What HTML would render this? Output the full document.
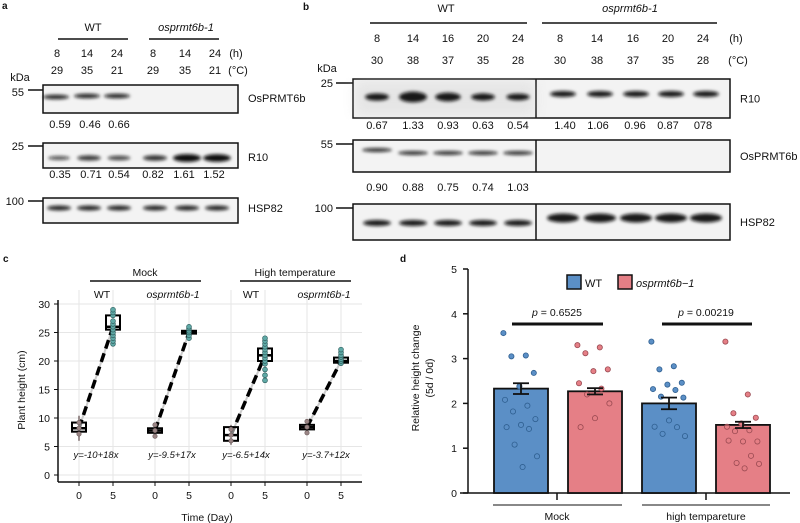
<!DOCTYPE html>
<html><head><meta charset="utf-8"><style>
html,body{margin:0;padding:0;background:#fff}
svg{display:block;font-family:"Liberation Sans",Arial,sans-serif}
</style></head><body>
<svg id="fig" width="800" height="523" viewBox="0 0 800 523" xmlns="http://www.w3.org/2000/svg">
<defs>
<filter id="blur" x="-20%" y="-100%" width="140%" height="300%"><feGaussianBlur stdDeviation="1.6"/></filter>
<filter id="blur2"><feGaussianBlur stdDeviation="6"/></filter>
</defs>
<g id="pa"></g>
<g id="pb"></g>
<g id="pc"></g>
<g id="pd"></g>
</svg>
<script>
const NS='http://www.w3.org/2000/svg';
function el(p,tag,at,txt){const e=document.createElementNS(NS,tag);for(const k in at)e.setAttribute(k,at[k]);if(txt!==undefined)e.textContent=txt;p.appendChild(e);return e;}
function T(p,x,y,s,o){o=o||{};const e=el(p,'text',Object.assign({x:x,y:y,'font-size':o.fs||11,'text-anchor':o.a||'middle',fill:'#111'},o.at||{}),s);if(o.it)e.setAttribute('font-style','italic');if(o.b)e.setAttribute('font-weight','bold');return e;}

// ---------- Panel A data ----------
const aHours=['8','14','24','8','14','24'];
const aTemps=['29','35','21','29','35','21'];
const aOsPRMT=['0.59','0.46','0.66'];
const aR10=['0.35','0.71','0.54','0.82','1.61','1.52'];
const aR10Int=[0.35,0.71,0.54,0.82,1.61,1.52];
// ---------- Panel B data ----------
const bHours=['8','14','16','20','24','8','14','16','20','24'];
const bTemps=['30','38','37','35','28','30','38','37','35','28'];
const bR10=['0.67','1.33','0.93','0.63','0.54','1.40','1.06','0.96','0.87','078'];
const bR10Int=[0.67,1.33,0.93,0.63,0.54,1.40,1.06,0.96,0.87,0.78];
const bOsPRMT=['0.90','0.88','0.75','0.74','1.03'];

function blotBox(g,x1,x2,y1,y2,name){const r=el(g,'rect',{x:x1,y:y1,width:x2-x1,height:y2-y1,fill:'#f3f3f3',stroke:'#111','stroke-width':1.5});
return r;}
function band(g,cx,cy,w,h,op){const e=el(g,'ellipse',{cx:cx,cy:cy,rx:w/2,ry:h/2,fill:'#111','fill-opacity':op,filter:'url(#blur)'});
}

(function(){
const g=document.getElementById('pa');
T(g,2,9,'a',{a:'start',b:1,fs:10});
const cols=[57,87,117,153,185,215];
T(g,93,31,'WT');el(g,'line',{x1:58,y1:39,x2:128,y2:39,stroke:'#111','stroke-width':1.5});
T(g,186,31,'osprmt6b-1',{it:1});el(g,'line',{x1:149,y1:39,x2:219,y2:39,stroke:'#111','stroke-width':1.5});
aHours.forEach((h,i)=>T(g,cols[i],57,h));T(g,236,57,'(h)');
aTemps.forEach((h,i)=>T(g,cols[i],74,h));T(g,238,74,'(°C)');
T(g,20,81,'kDa');
// row 1
blotBox(g,43,238,85,113,'osprmt6b-blot-a');
T(g,24,96,'55',{a:'end'});el(g,'line',{x1:28,y1:90,x2:43,y2:90,stroke:'#111','stroke-width':1.5});
for(let i=0;i<3;i++)band(g,cols[i]+(i==0?-1:0),96+(i==0?1:0),26,4.5,0.9);
T(g,248,102,'OsPRMT6b',{a:'start'});
aOsPRMT.forEach((v,i)=>T(g,[60,90,119][i],128,v));
// row 2
blotBox(g,43,238,143,168,'r10-blot-a');
T(g,24,150,'25',{a:'end'});el(g,'line',{x1:28,y1:146,x2:43,y2:146,stroke:'#111','stroke-width':1.5});
aR10Int.forEach((v,i)=>band(g,cols[i]+2,158,20+v*5,3+v*3,Math.min(1,0.6+v*0.3)));
T(g,248,161,'R10',{a:'start'});
aR10.forEach((v,i)=>T(g,[60,91,119,153,184,214][i],178,v));
// row 3
blotBox(g,43,238,198,223,'hsp82-blot-a');
T(g,24,205,'100',{a:'end'});el(g,'line',{x1:28,y1:201,x2:43,y2:201,stroke:'#111','stroke-width':1.5});
for(let i=0;i<6;i++)band(g,cols[i]+2,208,24,5,0.9);
T(g,248,212,'HSP82',{a:'start'});
})();

(function(){
const g=document.getElementById('pb');
T(g,303,10,'b',{a:'start',b:1,fs:10});
const cols=[377,413,448,483,518,560,597,633,668,703];
T(g,446,12,'WT');el(g,'line',{x1:370,y1:23,x2:527,y2:23,stroke:'#111','stroke-width':1.5});
T(g,630,12,'osprmt6b-1',{it:1});el(g,'line',{x1:542,y1:23,x2:717,y2:23,stroke:'#111','stroke-width':1.5});
bHours.forEach((h,i)=>T(g,cols[i],42,h));T(g,736,42,'(h)');
bTemps.forEach((h,i)=>T(g,cols[i],64,h));T(g,738,64,'(°C)');
T(g,327,72,'kDa');
const rows=[[79,118,'25','R10','r10-blot-b'],[140,172,'55','OsPRMT6b','osprmt6b-blot-b'],[204,240,'100','HSP82','hsp82-blot-b']];
rows.forEach(r=>{blotBox(g,353,730,r[0],r[1],r[4]);el(g,'line',{x1:536,y1:r[0],x2:536,y2:r[1],stroke:'#111','stroke-width':1.5});
el(g,'line',{x1:336,y1:r[0]+4,x2:353,y2:r[0]+4,stroke:'#111','stroke-width':1.5});
T(g,333,r[0]+8,r[2],{a:'end'});T(g,740,(r[0]+r[1])/2+4,r[3],{a:'start'});});
el(g,'rect',{x:355,y:81,width:180,height:35,fill:'#ccc',opacity:0.35,filter:'url(#blur2)'});
bR10Int.forEach((v,i)=>band(g,cols[i]+(i<5?0:3),i<5?97:94,i<5?20+v*6:26,i<5?4+v*5:6,0.95));
bR10.forEach((v,i)=>T(g,[377,413,448,483,518,565,598,635,668,703][i],129,v));
for(let i=0;i<5;i++)band(g,cols[i],i==0?150:153,30,4,0.85);
bOsPRMT.forEach((v,i)=>T(g,cols[i],191,v));
for(let i=0;i<10;i++)band(g,cols[i]+(i<5?0:3),i<5?223:218,i<5?28:32,i<5?6:9,0.95);
})();

// ---------- Panel C data ----------
const cGroups=['Mock','High temperature'];
const cGenos=['WT','osprmt6b-1','WT','osprmt6b-1'];
const cDays=[0,5];
const cMed0=[8.2,7.8,7.0,8.4];
const cQ1_0=[7.6,7.4,6.0,8.0];
const cQ3_0=[9.2,8.2,8.4,8.8];
const cMin0=[6.0,6.6,5.3,7.7];
const cMax0=[10.4,9.0,8.8,9.2];
const cMed5=[26.0,25.0,21.0,20.0];
const cQ1_5=[25.5,24.8,20.0,19.7];
const cQ3_5=[28.0,25.3,22.2,20.6];
const cPts5=[[23,23.5,24,24.5,25,25.5,26,26.5,27,28,28.5,29],[24,24.5,25,25.3,25.7,26],[16.6,17.5,18.5,19.5,20,20.5,21,21.5,22,22.5,23,23.5,24],[19.6,20,20.3,20.7,21,21.5,22]];
const cEq=['y=-10+18x','y=-9.5+17x','y=-6.5+14x','y=-3.7+12x'];
const cYTicks=[0,5,10,15,20,25,30];

(function(){
const g=document.getElementById('pc');
T(g,3,262,'c',{a:'start',b:1,fs:10});
const ys=v=>475-v*(171/30);
const xs=(gi,d)=>79+gi*76+d*(34/5);
cYTicks.forEach(v=>el(g,'line',{x1:58,y1:ys(v),x2:362,y2:ys(v),stroke:'#e6e6e6','stroke-width':1}));
cGenos.forEach((n,gi)=>cDays.forEach(d=>el(g,'line',{x1:xs(gi,d),y1:290,x2:xs(gi,d),y2:482,stroke:'#e6e6e6','stroke-width':1})));
el(g,'line',{x1:58,y1:300,x2:58,y2:482,stroke:'#111','stroke-width':1.5});
el(g,'line',{x1:58,y1:482,x2:362,y2:482,stroke:'#111','stroke-width':1.5});
cYTicks.forEach(v=>{el(g,'line',{x1:54,y1:ys(v),x2:58,y2:ys(v),stroke:'#111'});T(g,50,ys(v)+4,String(v),{a:'end',fs:10.5});});
cGenos.forEach((n,gi)=>cDays.forEach(d=>{el(g,'line',{x1:xs(gi,d),y1:482,x2:xs(gi,d),y2:486,stroke:'#111'});T(g,xs(gi,d),499,String(d),{fs:10.5});}));
T(g,207,521,'Time (Day)',{fs:10.5});
T(g,0,0,'Plant  height (cm)',{fs:10.5,at:{transform:'translate(25,390) rotate(-90)'}});
cGroups.forEach((n,i)=>{T(g,[145,295][i],276,n,{fs:10.5});el(g,'line',{x1:[90,240][i],y1:281,x2:[201,351][i],y2:281,stroke:'#111','stroke-width':1.5});});
cGenos.forEach((n,gi)=>T(g,[102,173,251,324][gi],298,n,{fs:10.5,it:gi%2==1}));
cEq.forEach((s,gi)=>T(g,[96,172,246,326][gi],458,s,{fs:9.5,it:1}));
cGenos.forEach((n,gi)=>{
 const x0=xs(gi,0),x5=xs(gi,5);
 el(g,'line',{x1:x0,y1:ys(cMin0[gi]),x2:x0,y2:ys(cMax0[gi]),stroke:'#7a6a6a','stroke-width':1.5});
 el(g,'line',{x1:x0,y1:ys(cMed0[gi]),x2:x5,y2:ys(cMed5[gi]),stroke:'#ccc','stroke-width':2});
 const dl=el(g,'line',{x1:x0,y1:ys(cMed0[gi]),x2:x5,y2:ys(cMed5[gi]),stroke:'#000','stroke-width':3.5,'stroke-dasharray':'9 5'});
 
 
 [[x0,cQ1_0,cQ3_0,cMed0],[x5,cQ1_5,cQ3_5,cMed5]].forEach(b=>{
  const r=el(g,'rect',{x:b[0]-7,y:ys(b[2][gi]),width:14,height:Math.max(2,ys(b[1][gi])-ys(b[2][gi])),fill:'#fff','fill-opacity':0.5,stroke:'#000','stroke-width':2});
  
  
  el(g,'line',{x1:b[0]-7,y1:ys(b[3][gi]),x2:b[0]+7,y2:ys(b[3][gi]),stroke:'#000','stroke-width':2.5});
 });
 for(let k=0;k<3;k++)el(g,'circle',{cx:x0,cy:ys(cMed0[gi]+k-1),r:2.2,fill:'#9a8585',stroke:'#6a5a5a','stroke-width':0.6});
 cPts5[gi].forEach(v=>{const c=el(g,'circle',{cx:x5,cy:ys(v),r:2.4,fill:'#5fa9a6',stroke:'#2f5f5f','stroke-width':0.7});
  
  });
});
})();

// ---------- Panel D data ----------
const dGroups=['Mock','high tempareture'];
const dSeries=['WT','osprmt6b−1'];
const dMeans=[2.33,2.27,2.0,1.52];
const dSE=[0.12,0.07,0.13,0.07];
const dPts=[[3.57,3.07,3.05,2.68,2.38,2.08,1.95,1.82,1.65,1.52,1.47,1.43,1.08,0.82,0.58],
[3.3,3.25,3.12,2.76,2.72,2.45,2.33,2.2,2.0,1.67,1.47],
[3.38,2.83,2.76,2.46,2.42,2.32,2.3,2.15,2.13,1.62,1.48,1.47,1.32,1.27],
[3.38,2.2,1.78,1.68,1.55,1.48,1.4,1.38,1.15,1.15,1.17,0.83,0.67,0.65,0.55]];
const dPvals=['p = 0.6525','p = 0.00219'];
const dYTicks=[0,1,2,3,4,5];

(function(){
const g=document.getElementById('pd');
T(g,400,262,'d',{a:'start',b:1,fs:10});
const ys=v=>493-v*44.8;
const colors=['#5b8fc6','#e57f86'],dark=['#2f5f90','#9a4a52'];
const bx=[494,568,642,716],bw=54;
el(g,'line',{x1:468,y1:269,x2:468,y2:493,stroke:'#111','stroke-width':1.5});
el(g,'line',{x1:460,y1:493,x2:790,y2:493,stroke:'#111','stroke-width':1.5});
dYTicks.forEach(v=>{el(g,'line',{x1:463,y1:ys(v),x2:468,y2:ys(v),stroke:'#111','stroke-width':1.5});T(g,457,ys(v)+4,String(v),{a:'end',fs:10.5});});
T(g,0,0,'Relative  height change',{fs:10.5,at:{transform:'translate(419,378) rotate(-90)'}});
T(g,0,0,'(5d / 0d)',{fs:10.5,at:{transform:'translate(433,378) rotate(-90)'}});
dMeans.forEach((m,i)=>{
 const r=el(g,'rect',{x:bx[i],y:ys(m),width:bw,height:ys(0)-ys(m),fill:colors[i%2],stroke:'#111','stroke-width':1.8});
 
 
 const cx=bx[i]+bw/2;
 dPts[i].forEach((v,k)=>{const jx=((k*37)%23-11)*1.6;const c=el(g,'circle',{cx:cx+jx,cy:ys(v),r:2.6,fill:colors[i%2],stroke:dark[i%2],'stroke-width':0.8,'fill-opacity':v>m?1:0.6});
  
  });
 el(g,'line',{x1:cx,y1:ys(m-dSE[i]),x2:cx,y2:ys(m+dSE[i]),stroke:'#111','stroke-width':1.8});
 el(g,'line',{x1:cx-8,y1:ys(m+dSE[i]),x2:cx+8,y2:ys(m+dSE[i]),stroke:'#111','stroke-width':1.8});
 el(g,'line',{x1:cx-8,y1:ys(m-dSE[i]),x2:cx+8,y2:ys(m-dSE[i]),stroke:'#111','stroke-width':1.8});
});
dGroups.forEach((n,j)=>{const c=[557,706][j];
 el(g,'line',{x1:c,y1:493,x2:c,y2:500,stroke:'#111','stroke-width':1.5});
 el(g,'line',{x1:[493,642][j],y1:505,x2:[622,770][j],y2:505,stroke:'#111','stroke-width':1});
 T(g,c,520,n,{fs:10.5});
 el(g,'line',{x1:[512,662][j],y1:324,x2:[603,752][j],y2:324,stroke:'#111','stroke-width':3});
 const t=T(g,[557,706][j],316,'',{fs:10.5});
 el(t,'tspan',{'font-style':'italic'},'p');el(t,'tspan',{},dPvals[j].slice(1));
});
dSeries.forEach((n,i)=>{const x=[567,618][i];
 const r=el(g,'rect',{x:x,y:275,width:14,height:14,fill:colors[i],stroke:'#111','stroke-width':1.5});
 
 
 T(g,x+18,287,n,{a:'start',fs:11,it:i==1});});
})();
</script>
</body></html>
